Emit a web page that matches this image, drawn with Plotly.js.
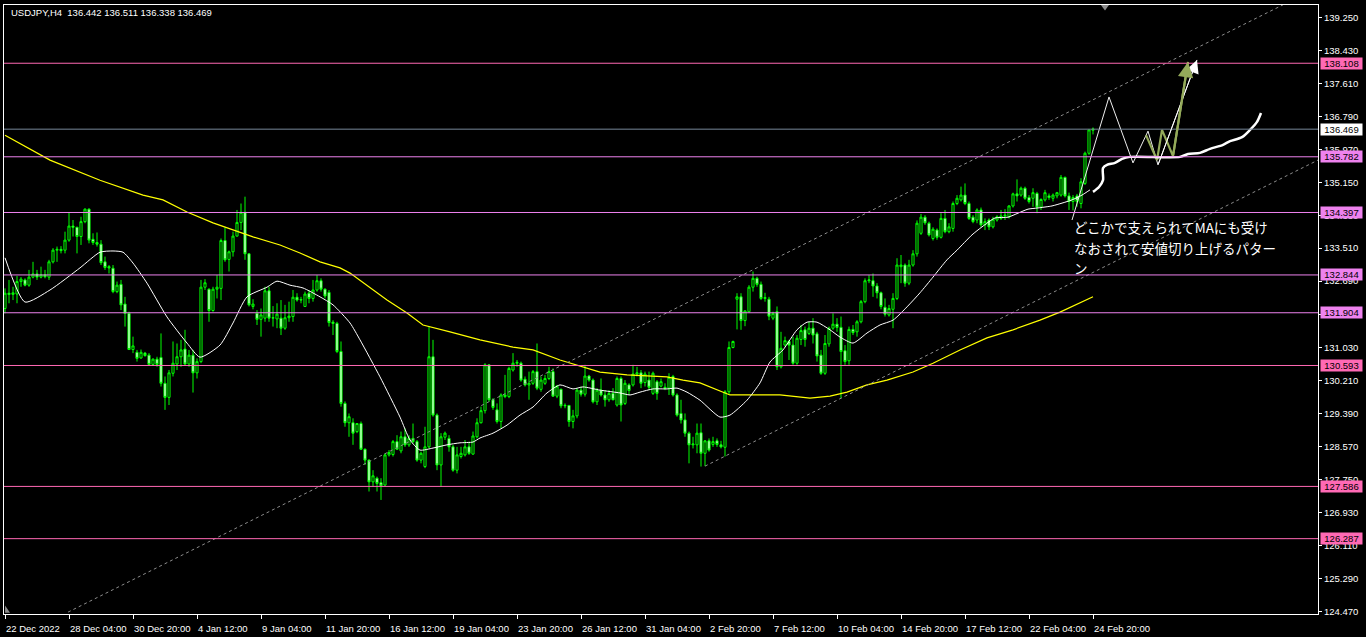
<!DOCTYPE html>
<html>
<head>
<meta charset="utf-8">
<script src="https://cdn.plot.ly/plotly-3.0.1.min.js"></script>
<style>
  html, body { margin: 0; padding: 0; background: #000; }
  #chart { width: 1366px; height: 637px; }
</style>
</head>
<body>
<div id="chart"></div>
<script>
// USDJPY H4 candles, 22 Dec 2022 - 24 Feb 2023
const symbolName = 'USDJPY,H4';

const openP = [
  132.01,132.39,132.36,132.37,132.68,132.72,132.59,132.79,132.87,132.79,
  132.85,132.79,133.17,133.46,133.48,133.46,133.71,134.06,134.03,133.80,
  134.17,134.48,133.73,133.65,133.61,133.17,133.05,133.01,132.43,132.61,
  132.12,131.89,130.99,130.92,130.78,130.90,130.85,130.62,130.75,130.79,
  130.15,129.80,130.40,130.63,130.81,131.00,130.63,130.85,130.41,130.69,
  132.54,132.49,131.96,132.49,132.51,133.70,133.23,133.42,133.81,134.15,
  134.40,133.37,132.06,131.89,131.74,131.77,132.45,131.77,131.75,131.77,
  131.52,131.78,131.81,132.29,132.22,132.06,132.39,132.26,132.47,132.70,
  132.49,132.41,131.67,131.64,130.94,129.65,129.17,129.17,128.95,129.15,
  128.51,128.24,127.70,127.79,127.68,127.62,128.37,128.38,128.70,128.47,
  128.82,128.62,128.78,128.70,128.24,128.08,128.57,130.81,129.36,128.12,
  128.81,128.78,128.57,127.99,128.33,128.37,128.57,128.39,128.82,129.17,
  129.47,130.61,129.74,129.49,129.20,129.82,129.82,130.48,130.65,130.65,
  130.25,130.11,130.15,130.44,130.00,130.15,130.27,130.44,129.83,130.00,
  129.59,129.60,129.20,129.34,129.98,129.88,130.33,130.23,129.69,129.98,
  129.86,129.74,129.90,129.61,130.27,129.65,130.11,130.11,130.38,130.41,
  130.17,130.23,129.90,130.19,130.08,130.05,130.03,130.32,129.86,129.40,
  129.24,128.91,128.62,128.62,128.92,128.41,128.72,128.63,128.72,128.62,
  128.56,129.94,131.04,132.24,132.30,131.71,131.93,132.54,132.76,132.61,
  132.26,132.24,131.77,131.93,130.56,131.10,131.19,131.10,130.65,131.24,
  131.48,131.39,131.52,131.38,130.85,130.40,131.13,131.52,131.62,131.54,
  130.96,130.71,131.49,131.43,131.68,132.18,132.70,132.70,132.57,132.40,
  132.04,131.85,131.99,132.26,133.05,133.09,132.64,133.09,133.37,133.88,
  134.28,134.13,133.75,133.96,133.78,134.25,133.92,134.00,134.62,134.71,
  134.83,134.62,134.28,134.21,134.46,134.09,134.21,134.04,134.21,134.25,
  134.31,134.29,134.56,134.86,134.83,135.00,134.77,134.75,134.87,134.53,
  134.71,134.81,134.75,134.81,134.83,135.27,134.81,134.67,134.81,134.62,
  135.12,135.87,136.442
];
const highP = [
  132.51,132.72,132.55,132.82,132.79,132.76,132.97,133.17,132.97,133.05,
  132.97,133.22,133.51,133.55,133.56,133.92,134.39,134.21,134.04,134.29,
  134.50,134.50,133.88,133.90,133.71,133.30,133.09,133.09,132.68,132.72,
  132.30,131.93,131.31,130.98,130.99,130.93,130.90,130.77,130.81,131.39,
  130.32,130.48,131.19,131.14,131.23,131.48,130.98,130.98,130.77,132.72,
  132.74,132.51,132.55,132.84,133.75,134.03,133.45,133.92,134.46,134.62,
  134.79,133.38,132.24,131.97,132.01,132.55,132.55,132.07,132.14,132.22,
  132.10,132.18,132.47,132.39,132.30,132.43,132.47,132.72,132.84,132.76,
  132.51,132.47,131.72,131.68,131.19,129.70,129.40,129.28,129.15,129.20,
  128.53,128.26,127.99,127.83,127.79,128.41,128.49,128.74,128.86,128.95,
  129.03,128.86,129.15,128.74,128.45,129.07,131.56,131.23,129.40,128.91,
  128.95,128.86,128.62,128.57,128.57,128.74,128.70,128.95,129.28,129.57,
  130.65,130.63,129.78,129.65,129.90,130.36,130.56,130.90,130.73,130.69,
  130.32,130.44,130.48,131.14,130.32,130.36,130.56,130.52,130.11,130.02,
  129.65,129.61,129.49,130.03,130.07,130.61,130.36,130.27,130.03,130.27,
  129.98,129.98,130.03,130.32,130.32,130.23,130.15,130.61,130.56,130.48,
  130.44,130.44,130.44,130.23,130.27,130.15,130.40,130.36,129.90,129.74,
  129.40,128.95,128.82,129.15,129.15,128.74,128.78,128.82,128.78,128.72,
  129.98,131.19,131.21,132.39,132.39,131.97,132.59,132.93,132.80,132.68,
  132.40,132.30,131.93,132.06,131.43,131.31,131.23,131.31,131.35,131.60,
  131.56,131.68,131.77,131.43,130.98,131.35,131.56,131.89,131.77,131.81,
  131.10,131.56,131.60,131.72,132.22,132.76,132.84,132.88,132.64,132.43,
  132.26,132.10,132.39,133.26,133.34,133.13,133.22,133.46,134.20,134.36,
  134.33,134.17,134.03,134.00,134.38,134.46,134.13,134.67,134.83,135.04,
  135.12,134.67,134.33,134.50,134.52,134.25,134.25,134.29,134.33,134.46,
  134.48,134.58,134.89,135.22,135.04,135.04,134.83,135.00,134.91,134.75,
  134.96,134.87,134.87,134.91,135.33,135.29,134.89,134.83,134.86,135.25,
  135.91,136.46,136.511
];
const lowP = [
  131.89,132.14,132.22,132.14,132.55,132.56,132.55,132.76,132.72,132.76,
  132.76,132.72,133.13,133.17,133.38,133.38,133.67,133.80,133.38,133.59,
  134.13,133.63,133.59,133.55,133.09,132.97,132.88,132.39,132.39,131.97,
  131.56,130.98,130.90,130.69,130.76,130.81,130.59,130.60,130.56,130.07,
  129.49,129.61,130.32,130.48,130.56,130.58,130.56,129.92,130.27,130.65,
  132.47,131.68,131.93,132.26,132.22,133.17,132.93,133.30,133.80,133.96,
  133.22,132.06,131.99,131.60,131.31,131.68,131.68,131.56,131.52,131.35,
  131.48,131.68,131.68,132.18,132.14,132.05,132.14,132.18,132.43,132.43,
  132.26,131.56,131.35,130.90,129.57,129.07,128.82,128.62,128.91,128.49,
  128.12,127.46,127.58,127.46,127.25,127.60,128.33,128.33,128.49,128.41,
  128.57,128.57,128.66,128.20,128.16,128.04,128.53,129.32,127.99,127.58,
  128.74,128.45,127.95,127.91,128.28,128.33,128.37,128.37,128.78,129.15,
  129.40,129.69,129.49,129.15,129.03,129.78,129.78,130.44,130.56,130.19,
  130.07,129.74,130.11,129.98,129.94,130.11,130.23,129.82,129.78,129.53,
  129.53,129.07,129.03,129.28,129.82,129.82,130.19,129.65,129.61,129.82,
  129.57,129.69,129.73,129.57,129.20,129.61,129.86,130.07,130.32,130.03,
  130.07,129.98,129.86,129.74,130.05,129.98,129.86,129.82,129.32,129.15,
  128.82,128.16,128.53,128.41,128.08,128.09,128.45,128.57,128.57,128.53,
  128.33,129.86,131.02,131.49,131.48,131.57,131.91,132.43,132.55,132.22,
  132.18,131.72,131.72,130.48,130.52,131.06,130.73,130.61,130.61,131.10,
  131.06,131.35,131.14,130.69,130.36,130.36,131.06,131.48,131.43,129.78,
  130.61,130.61,131.35,131.31,131.64,132.14,132.64,132.30,132.26,131.99,
  131.81,131.81,131.52,132.22,132.64,132.55,132.59,133.05,133.30,133.84,
  134.09,133.80,133.70,133.72,133.75,133.88,133.88,133.92,134.58,134.67,
  134.58,134.21,134.13,134.13,134.04,133.96,133.96,134.00,134.17,134.21,
  134.21,134.25,134.52,134.67,134.79,134.71,134.62,134.54,134.38,134.46,
  134.67,134.71,134.67,134.75,134.79,134.77,134.46,134.45,134.54,134.50,
  135.08,135.83,136.338
];
const closeP = [
  132.39,132.36,132.40,132.68,132.74,132.59,132.79,132.87,132.79,132.85,
  132.80,133.17,133.46,133.48,133.45,133.71,134.06,134.03,133.80,134.17,
  134.48,133.71,133.65,133.61,133.15,133.03,133.02,132.43,132.59,132.10,
  131.89,130.99,131.08,130.77,130.92,130.84,130.62,130.75,130.62,130.15,
  129.80,130.41,130.65,130.81,130.98,130.63,130.85,130.41,130.69,132.54,
  132.65,131.96,132.49,132.54,133.70,133.22,133.42,133.81,134.15,134.40,
  133.37,132.10,132.12,131.74,131.85,132.45,131.77,131.78,131.87,131.52,
  131.78,131.82,132.29,132.22,132.23,132.37,132.26,132.47,132.70,132.49,
  132.32,131.66,131.64,130.94,129.65,129.17,129.32,128.91,129.15,128.51,
  128.24,127.70,127.85,127.66,127.60,128.37,128.43,128.70,128.51,128.82,
  128.62,128.78,128.70,128.24,128.41,128.57,130.81,129.36,128.12,128.82,
  128.91,128.57,127.99,128.37,128.41,128.57,128.41,128.84,129.17,129.47,
  130.61,129.74,129.55,129.20,129.86,129.86,130.52,130.65,130.67,130.23,
  130.11,130.15,130.44,130.03,130.23,130.27,130.44,129.83,130.08,129.59,
  129.60,129.20,129.34,129.98,129.88,130.33,130.23,129.69,129.98,129.86,
  129.74,129.90,129.74,130.27,129.61,130.15,129.97,130.38,130.41,130.15,
  130.38,130.05,130.40,129.90,130.19,130.03,130.30,129.86,129.36,129.24,
  128.91,128.62,128.64,128.91,128.41,128.72,128.49,128.70,128.63,128.57,
  129.94,131.04,131.19,132.30,131.71,131.95,132.54,132.76,132.61,132.26,
  132.28,131.82,131.89,130.56,131.02,131.21,131.10,130.65,131.27,131.46,
  131.24,131.52,131.35,130.83,130.40,131.14,131.52,131.62,131.54,130.94,
  130.69,131.49,131.41,131.68,132.18,132.70,132.72,132.57,132.40,132.06,
  131.87,132.01,132.26,133.09,133.09,132.64,133.09,133.37,134.13,134.28,
  134.14,133.84,133.98,133.78,134.25,133.92,134.04,134.62,134.75,134.83,
  134.62,134.25,134.17,134.46,134.09,134.17,134.04,134.23,134.29,134.31,
  134.33,134.56,134.86,134.81,135.00,134.75,134.67,134.89,134.53,134.72,
  134.89,134.77,134.83,134.89,135.27,134.81,134.67,134.77,134.67,135.16,
  135.87,136.45,136.469
];

// Moving averages (bar index, price)
const maFastBar = [0,5,11.25,18.75,23.75,27,29.5,32,35.5,40.5,45.5,48.75,53.75,57,60.5,65.5,68,71.25,74.5,78.75,
  82,86.25,88.75,93.75,98.75,101.25,103.75,107,110.5,113.75,117,118.75,122,125.5,128.75,132,135.5,138.75,142,144.5,
  148.75,153.75,156.25,158.75,162,165.5,168,170.5,173.75,178.75,181.25,185.5,188.75,191.25,194.5,198,200.5,203,206.25,208.75,
  212,215.5,218.75,222,225.5,228.75,232,235.5,238,241.75,244.25,247.5,250.75,253.25,255.75,258.25,261.75,264.25,266.75,269.25,271.25];
const maFastVal = [133.27,132.17,132.47,133.02,133.41,133.44,133.41,133.14,132.64,131.80,131.15,130.80,131.10,131.65,132.30,132.54,132.69,132.59,132.52,132.30,
  132.10,131.65,131.23,130.31,129.31,128.74,128.49,128.54,128.62,128.67,128.69,128.79,128.91,129.11,129.36,129.56,129.91,130.11,130.01,130.06,
  129.98,129.91,129.86,129.93,130.01,130.01,130.03,129.93,129.73,129.31,129.36,129.73,130.16,130.68,130.98,131.48,131.67,131.67,131.48,131.30,
  131.15,131.40,131.60,131.72,132.05,132.40,132.79,133.22,133.46,133.84,134.04,134.26,134.28,134.38,134.48,134.51,134.56,134.63,134.71,134.83,134.96];
const maSlowBar = [0,11.25,23.75,30.75,34.5,39.5,45.5,52,57,62,68.75,73.75,78.75,83.75,86.25,95.5,100.5,104.5,111.25,118.75,
  127,132,138.75,141.25,148.75,155.5,165.5,169.5,173.75,180,181.25,193.75,201.25,206.25,210.5,215.5,220.5,227,232,238.75,
  245.5,252,258.75,263.75,268.75,272];
const maSlowVal = [136.32,135.70,135.20,134.96,134.83,134.71,134.41,134.14,133.96,133.79,133.59,133.39,133.17,133.02,132.89,132.22,131.90,131.60,131.43,131.23,
  131.05,130.98,130.73,130.65,130.43,130.36,130.31,130.23,130.16,129.91,129.86,129.86,129.78,129.83,129.93,130.11,130.23,130.43,130.65,130.98,
  131.28,131.48,131.72,131.92,132.15,132.30];

// Trend channel anchors (bar index, price)
const channelUpperBar = [15.75, 319.5];
const channelUpperVal = [124.46, 139.56];
const channelLowerBar = [175, 328.25];
const channelLowerVal = [128.09, 135.70];

// Horizontal levels
const levelsPink = [138.108, 130.593, 127.586, 126.287];
const levelsViolet = [135.782, 134.397, 132.844, 131.904];

// Scenario sketch
const scenarioBar = [266.75, 276, 282, 285.75, 288.25, 298];
const scenarioVal = [134.21, 137.27, 135.63, 136.42, 135.58, 138.19];
const altScenarioBar = [285.25, 288, 289.25, 292, 295.75];
const altScenarioVal = [136.32, 135.70, 136.45, 135.80, 138.14];
const maPathBar = [272, 273.5, 274.5, 274.5, 275.5, 277.5, 279.25, 281.25, 293.75, 295.75, 298.75, 301.25, 304.5, 306.25, 309.25, 311.25, 313, 314];
const maPathVal = [134.91, 135.03, 135.20, 135.50, 135.58, 135.63, 135.73, 135.78, 135.78, 135.85, 135.88, 135.98, 136.08, 136.17, 136.27, 136.45, 136.65, 136.87];

const noteLines = ['どこかで支えられてMAにも受け', 'なおされて安値切り上げるパター', 'ン'];

// Axis labels
const timeLabelBars = [0,16,32,48,64,80,96,112,128,144,160,176,192,208,224,240,256,272];
const timeLabels = ['22 Dec 2022','28 Dec 04:00','30 Dec 20:00','4 Jan 12:00','9 Jan 04:00','11 Jan 20:00',
  '16 Jan 12:00','19 Jan 04:00','23 Jan 20:00','26 Jan 12:00','31 Jan 04:00','2 Feb 20:00','7 Feb 12:00',
  '10 Feb 04:00','14 Feb 20:00','17 Feb 12:00','22 Feb 04:00','24 Feb 20:00'];
const priceLabels = ['139.250','138.430','137.610','136.790','135.970','135.150','134.330','133.510','132.690',
  '131.870','131.030','130.210','129.390','128.570','127.750','126.930','126.110','125.290','124.470'];

// ---- drawing ----
const LIME = '#00ff00';
const PINK = '#ff69b4';
const VIOLET = '#ee82ee';
const OLIVE = '#94aa5a';
const FONT = '"Liberation Sans", Arial, sans-serif';

const bars = openP.map((_, i) => i);
const last = openP.length - 1;
const lastClose = closeP[last];

const traces = [
  {
    type: 'candlestick', x: bars, open: openP, high: highP, low: lowP, close: closeP,
    increasing: { line: { color: LIME, width: 1 }, fillcolor: '#000000' },
    decreasing: { line: { color: LIME, width: 1 }, fillcolor: '#ffffff' },
    whiskerwidth: 0, hoverinfo: 'skip'
  },
  { type: 'scatter', mode: 'lines', x: maSlowBar, y: maSlowVal, line: { color: '#ffff00', width: 1.2 }, hoverinfo: 'skip' },
  { type: 'scatter', mode: 'lines', x: maFastBar, y: maFastVal, line: { color: '#ffffff', width: 1, shape: 'spline', smoothing: 0.6 }, hoverinfo: 'skip' },
  { type: 'scatter', mode: 'lines', x: channelUpperBar, y: channelUpperVal, line: { color: '#8c8c8c', width: 1, dash: 'dot' }, hoverinfo: 'skip' },
  { type: 'scatter', mode: 'lines', x: channelLowerBar, y: channelLowerVal, line: { color: '#8c8c8c', width: 1, dash: 'dot' }, hoverinfo: 'skip' },
  { type: 'scatter', mode: 'lines', x: scenarioBar, y: scenarioVal, line: { color: '#f0f0f0', width: 1 }, hoverinfo: 'skip' },
  { type: 'scatter', mode: 'lines', x: altScenarioBar, y: altScenarioVal, line: { color: OLIVE, width: 2.2 }, hoverinfo: 'skip' },
  { type: 'scatter', mode: 'lines', x: maPathBar, y: maPathVal, line: { color: '#ffffff', width: 2.5, shape: 'spline', smoothing: 0.8 }, hoverinfo: 'skip' }
];

const shapes = [];
levelsPink.forEach(v => shapes.push({ type: 'line', xref: 'paper', x0: 0, x1: 1, yref: 'y', y0: v, y1: v, line: { color: PINK, width: 1 } }));
levelsViolet.forEach(v => shapes.push({ type: 'line', xref: 'paper', x0: 0, x1: 1, yref: 'y', y0: v, y1: v, line: { color: VIOLET, width: 1 } }));
shapes.push({ type: 'line', xref: 'paper', x0: 0, x1: 1, yref: 'y', y0: lastClose, y1: lastClose, line: { color: '#778899', width: 1 } });
// chart-shift marker at the top edge
shapes.push({ type: 'path', xref: 'paper', yref: 'paper', path: 'M 0.8348 1 L 0.8409 1 L 0.8379 0.991 Z', fillcolor: '#8c8c8c', line: { width: 0 } });
// scale marker in the lower-left corner
shapes.push({ type: 'path', xref: 'paper', yref: 'paper', path: 'M 0.0008 0.002 L 0.0008 0.014 L 0.0046 0.002 Z', fillcolor: '#8c8c8c', line: { width: 0 } });

const annotations = [];
const tagX = 1 + 2 / 1314;
function priceTag(v, bg) {
  annotations.push({
    xref: 'paper', x: tagX, xanchor: 'left', yref: 'y', y: v, yanchor: 'middle',
    text: v.toFixed(3), showarrow: false, bgcolor: bg, width: 41, height: 11, borderpad: 0,
    font: { family: FONT, size: 9.5, color: '#000000' }, align: 'center'
  });
}
levelsPink.forEach(v => priceTag(v, PINK));
levelsViolet.forEach(v => priceTag(v, VIOLET));
priceTag(lastClose, '#ffffff');

// symbol header
annotations.push({
  xref: 'paper', yref: 'paper', x: 5 / 1314, y: 1 - 8 / 609, xanchor: 'left', yanchor: 'middle', showarrow: false,
  text: symbolName + '\u00a0\u00a0' + [openP[last], highP[last], lowP[last], closeP[last]].map(v => v.toFixed(3)).join(' '),
  font: { family: FONT, size: 9.5, color: '#ffffff' }
});

// note text, one line per annotation
const noteY = [134.04, 133.51, 133.02];
noteLines.forEach((t, k) => annotations.push({
  xref: 'x', yref: 'y', x: 266.75, y: noteY[k], xanchor: 'left', yanchor: 'middle', showarrow: false,
  text: t, font: { family: '"Noto Sans CJK JP", sans-serif', size: 13.5, color: '#ffffff' }
}));

// arrow heads on the scenario paths
const sN = scenarioBar.length - 1;
annotations.push({
  xref: 'x', yref: 'y', axref: 'x', ayref: 'y',
  x: scenarioBar[sN], y: scenarioVal[sN], ax: scenarioBar[sN - 1], ay: scenarioVal[sN - 1],
  showarrow: true, arrowhead: 2, arrowsize: 2.6, arrowwidth: 1, arrowcolor: '#ffffff', standoff: 0, text: ''
});
const aN = altScenarioBar.length - 1;
annotations.push({
  xref: 'x', yref: 'y', axref: 'x', ayref: 'y',
  x: altScenarioBar[aN], y: altScenarioVal[aN], ax: altScenarioBar[aN - 1], ay: altScenarioVal[aN - 1],
  showarrow: true, arrowhead: 2, arrowsize: 1.4, arrowwidth: 2.2, arrowcolor: OLIVE, standoff: 0, text: ''
});

// time labels start at their tick, to the right
timeLabels.forEach((t, k) => annotations.push({
  xref: 'x', yref: 'paper', x: timeLabelBars[k], y: -7 / 609, xanchor: 'left', yanchor: 'top', xshift: -1,
  showarrow: false, text: t, font: { family: FONT, size: 9.5, color: '#ffffff' }
}));

const layout = {
  width: 1366, height: 637,
  margin: { l: 4, r: 48, t: 5, b: 23, pad: 0 },
  paper_bgcolor: '#000000', plot_bgcolor: '#000000',
  showlegend: false,
  font: { family: FONT, size: 9.5, color: '#ffffff' },
  boxgap: 0.25,
  xaxis: {
    range: [-0.25, 328.25], tickmode: 'array', tickvals: timeLabelBars, showticklabels: false,
    ticks: 'outside', ticklen: 4, tickcolor: '#ffffff', tickwidth: 1,
    showgrid: false, zeroline: false, showline: true, linecolor: '#ffffff', linewidth: 1, mirror: true,
    rangeslider: { visible: false }, fixedrange: true
  },
  yaxis: {
    range: [124.414, 139.556], side: 'right', tickmode: 'array',
    tickvals: priceLabels.map(Number), ticktext: priceLabels,
    ticks: 'outside', ticklen: 3, tickcolor: '#ffffff', tickwidth: 1,
    showgrid: false, zeroline: false, showline: true, linecolor: '#ffffff', linewidth: 1, mirror: true,
    fixedrange: true,
    tickfont: { family: FONT, size: 9.5, color: '#ffffff' }
  },
  shapes: shapes,
  annotations: annotations
};

Plotly.newPlot('chart', traces, layout, { displayModeBar: false, staticPlot: true });
</script>
</body>
</html>
